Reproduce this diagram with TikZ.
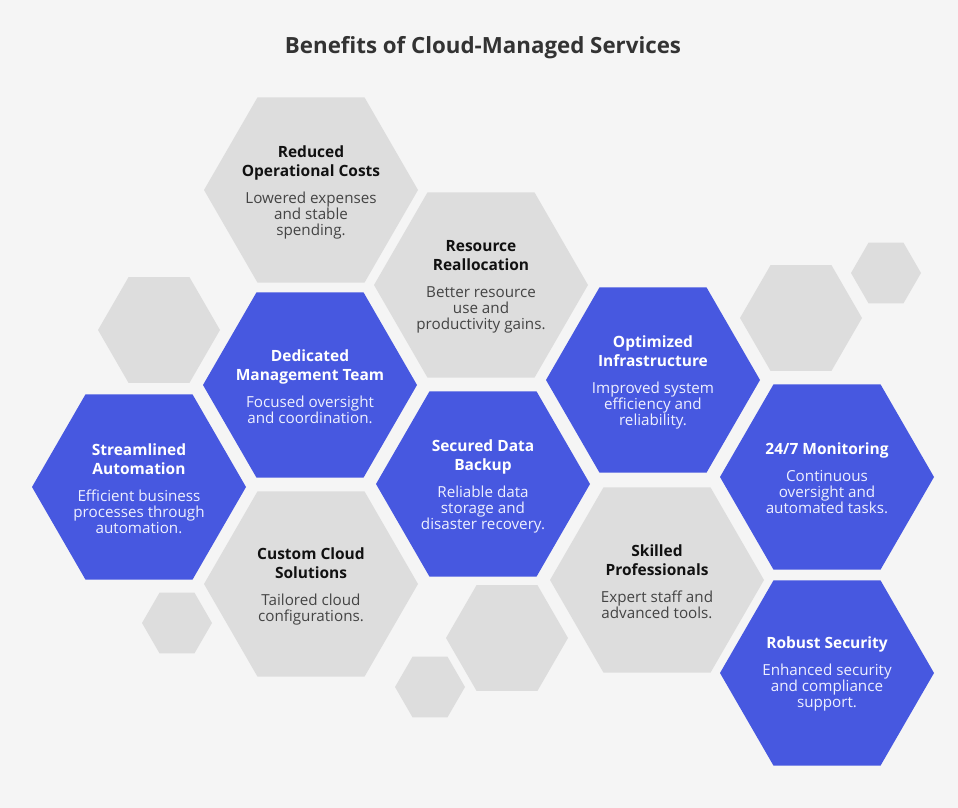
\documentclass[tikz,border=0pt]{standalone}
\usepackage{fontspec}
\setmainfont{Open Sans}
\definecolor{bg}{HTML}{F5F5F5}
\definecolor{hexgray}{HTML}{DDDDDD}
\definecolor{hexblue}{HTML}{4758E0}
\definecolor{titledark}{HTML}{111111}
\definecolor{bodydark}{HTML}{444444}
\definecolor{bodylight}{HTML}{EEF0FF}
\definecolor{headcol}{HTML}{333333}
\newcommand\gt[1]{{\fontsize{15.5}{16}\selectfont\bfseries\color{titledark}#1}}
\newcommand\bt[1]{{\fontsize{15.5}{16}\selectfont\bfseries\color{white}#1}}
\newcommand\hexshape[4]{%
  \fill[#4] (#1+#3,#2) -- (#1+0.5*#3,#2+0.866*#3) -- (#1-0.5*#3,#2+0.866*#3)
    -- (#1-#3,#2) -- (#1-0.5*#3,#2-0.866*#3) -- (#1+0.5*#3,#2-0.866*#3) -- cycle;}
\tikzset{
  graycell/.style={fill=hexgray},
  bluecell/.style={fill=hexblue},
  celltext/.style={align=center, inner sep=0pt, font=\fontsize{15.2}{16}\selectfont},
  graytext/.style={celltext, text=bodydark},
  bluetext/.style={celltext, text=bodylight},
}
\begin{document}
\begin{tikzpicture}[x=1pt,y=-1pt]
\fill[bg] (0,0) rectangle (958,808);
\useasboundingbox (0,0) rectangle (958,808);

\node[font=\fontsize{22.3}{26}\selectfont\bfseries, text=headcol] (title) at (483,48) {Benefits of Cloud-Managed Services};

% decorative hexagons
\hexshape{159}{330}{61}{graycell}
\hexshape{801}{318}{61}{graycell}
\hexshape{507}{638}{61}{graycell}
\hexshape{886}{273}{35}{graycell}
\hexshape{430}{687}{35}{graycell}
\hexshape{177}{623}{35}{graycell}

% main hexagons
\hexshape{311}{190}{107}{graycell}
\hexshape{481}{285}{107}{graycell}
\hexshape{310}{385}{107}{bluecell}
\hexshape{139}{487}{107}{bluecell}
\hexshape{483}{484}{107}{bluecell}
\hexshape{653}{380}{107}{bluecell}
\hexshape{311}{584}{107}{graycell}
\hexshape{657}{580}{107}{graycell}
\hexshape{827}{477}{107}{bluecell}
\hexshape{827}{673}{107}{bluecell}

\node[graytext] (reduced) at (311,192) {\gt{Reduced}\\[3pt]\gt{Operational Costs}\\[11pt]Lowered expenses\\and stable\\spending.};
\node[graytext] (resource) at (481,287) {\gt{Resource}\\[3pt]\gt{Reallocation}\\[11pt]Better resource\\use and\\productivity gains.};
\node[bluetext] (dedicated) at (310,387) {\bt{Dedicated}\\[3pt]\bt{Management Team}\\[11pt]Focused oversight\\and coordination.};
\node[bluetext] (streamlined) at (139,489) {\bt{Streamlined}\\[3pt]\bt{Automation}\\[11pt]Efficient business\\processes through\\automation.};
\node[bluetext] (secured) at (483,486) {\bt{Secured Data}\\[3pt]\bt{Backup}\\[11pt]Reliable data\\storage and\\disaster recovery.};
\node[bluetext] (optimized) at (653,382) {\bt{Optimized}\\[3pt]\bt{Infrastructure}\\[11pt]Improved system\\efficiency and\\reliability.};
\node[graytext] (custom) at (311,586) {\gt{Custom Cloud}\\[3pt]\gt{Solutions}\\[11pt]Tailored cloud\\configurations.};
\node[graytext] (skilled) at (657,582) {\gt{Skilled}\\[3pt]\gt{Professionals}\\[11pt]Expert staff and\\advanced tools.};
\node[bluetext] (monitoring) at (827,478) {\bt{24/7 Monitoring}\\[11pt]Continuous\\oversight and\\automated tasks.};
\node[bluetext] (robust) at (827,674) {\bt{Robust Security}\\[11pt]Enhanced security\\and compliance\\support.};
\end{tikzpicture}
\end{document}
